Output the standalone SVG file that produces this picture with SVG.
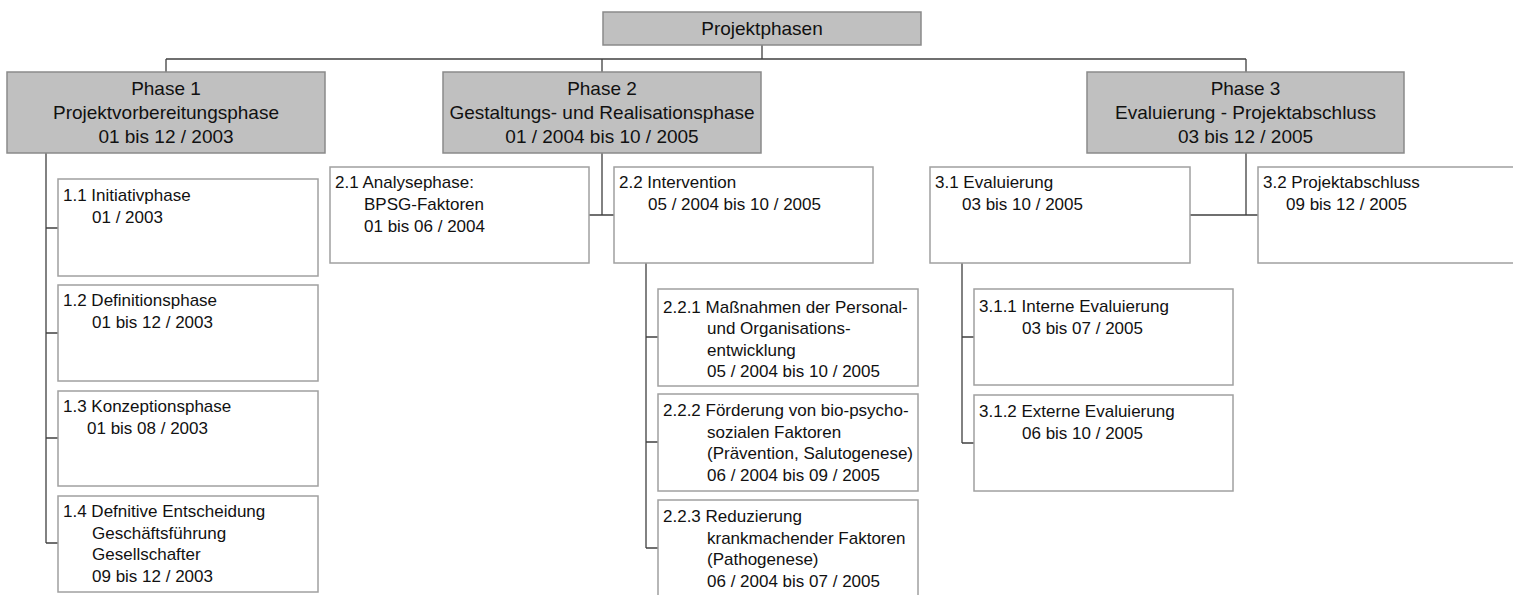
<svg xmlns="http://www.w3.org/2000/svg" width="1513" height="595" viewBox="0 0 1513 595">
<style>
.ph{fill:#c0c0c0;stroke:#8a8a8a;stroke-width:1.5}
.bx{fill:#ffffff;stroke:#a0a0a0;stroke-width:1.5}
.c{stroke:#404040;stroke-width:1.3;fill:none}
.tp{font-family:"Liberation Sans",Arial,sans-serif;font-size:19px;fill:#111;text-anchor:middle}
.ts{font-family:"Liberation Sans",Arial,sans-serif;font-size:17px;fill:#111}
</style>
<rect width="1513" height="595" fill="#ffffff"/>
<g id="connectors">
<path class="c" d="M762 45V59M166 59H1246M166 59V72M602 59V72M1246 59V72"/>
<path class="c" d="M46 153V543M46 228H58M46 333H58M46 438H58M46 543H58"/>
<path class="c" d="M602 153V215M589 215H614"/>
<path class="c" d="M646 263V548M646 337H658M646 442H658M646 548H658"/>
<path class="c" d="M1246 153V215M1190 215H1258"/>
<path class="c" d="M962 263V443M962 337H974M962 443H974"/>
</g>
<g id="root">
<rect class="ph" x="603" y="12" width="318" height="33"/>
<text class="tp" x="762" y="35">Projektphasen</text>
</g>
<g id="phase1">
<rect class="ph" x="7" y="72" width="318" height="81"/>
<text class="tp"><tspan x="166" y="95">Phase 1</tspan><tspan x="166" y="119">Projektvorbereitungsphase</tspan><tspan x="166" y="143">01 bis 12 / 2003</tspan></text>
</g>
<g id="phase2">
<rect class="ph" x="443" y="72" width="318" height="81"/>
<text class="tp"><tspan x="602" y="95">Phase 2</tspan><tspan x="602" y="119">Gestaltungs- und Realisationsphase</tspan><tspan x="602" y="143">01 / 2004 bis 10 / 2005</tspan></text>
</g>
<g id="phase3">
<rect class="ph" x="1087" y="72" width="317" height="81"/>
<text class="tp"><tspan x="1245.5" y="95">Phase 3</tspan><tspan x="1245.5" y="119">Evaluierung - Projektabschluss</tspan><tspan x="1245.5" y="143">03 bis 12 / 2005</tspan></text>
</g>
<g id="n1_1">
<rect class="bx" x="58" y="179" width="260" height="97"/>
<text class="ts"><tspan x="63" y="201">1.1 Initiativphase</tspan><tspan x="92" y="223">01 / 2003</tspan></text>
</g>
<g id="n1_2">
<rect class="bx" x="58" y="285" width="260" height="96"/>
<text class="ts"><tspan x="63" y="306">1.2 Definitionsphase</tspan><tspan x="92" y="328">01 bis 12 / 2003</tspan></text>
</g>
<g id="n1_3">
<rect class="bx" x="58" y="391" width="260" height="95"/>
<text class="ts"><tspan x="63" y="412">1.3 Konzeptionsphase</tspan><tspan x="87" y="434">01 bis 08 / 2003</tspan></text>
</g>
<g id="n1_4">
<rect class="bx" x="58" y="496" width="260" height="96"/>
<text class="ts"><tspan x="63" y="517">1.4 Defnitive Entscheidung</tspan><tspan x="92" y="539">Geschäftsführung</tspan><tspan x="92" y="560">Gesellschafter</tspan><tspan x="92" y="582">09 bis 12 / 2003</tspan></text>
</g>
<g id="n2_1">
<rect class="bx" x="330" y="167" width="259" height="96"/>
<text class="ts"><tspan x="335" y="188">2.1 Analysephase:</tspan><tspan x="364" y="210">BPSG-Faktoren</tspan><tspan x="364" y="232">01 bis 06 / 2004</tspan></text>
</g>
<g id="n2_2">
<rect class="bx" x="614" y="167" width="259" height="96"/>
<text class="ts"><tspan x="619" y="188">2.2 Intervention</tspan><tspan x="648" y="210">05 / 2004 bis 10 / 2005</tspan></text>
</g>
<g id="n2_2_1">
<rect class="bx" x="658" y="289" width="260" height="97"/>
<text class="ts"><tspan x="663" y="313">2.2.1 Maßnahmen der Personal-</tspan><tspan x="707" y="334">und Organisations-</tspan><tspan x="707" y="356">entwicklung</tspan><tspan x="707" y="377">05 / 2004 bis 10 / 2005</tspan></text>
</g>
<g id="n2_2_2">
<rect class="bx" x="658" y="394" width="260" height="97"/>
<text class="ts"><tspan x="663" y="416">2.2.2 Förderung von bio-psycho-</tspan><tspan x="707" y="438">sozialen Faktoren</tspan><tspan x="707" y="459">(Prävention, Salutogenese)</tspan><tspan x="707" y="481">06 / 2004 bis 09 / 2005</tspan></text>
</g>
<g id="n2_2_3">
<rect class="bx" x="658" y="500" width="260" height="100"/>
<text class="ts"><tspan x="663" y="522">2.2.3 Reduzierung</tspan><tspan x="707" y="544">krankmachender Faktoren</tspan><tspan x="707" y="565">(Pathogenese)</tspan><tspan x="707" y="587">06 / 2004 bis 07 / 2005</tspan></text>
</g>
<g id="n3_1">
<rect class="bx" x="930" y="167" width="260" height="96"/>
<text class="ts"><tspan x="935" y="188">3.1 Evaluierung</tspan><tspan x="962" y="210">03 bis 10 / 2005</tspan></text>
</g>
<g id="n3_2">
<rect class="bx" x="1258" y="167" width="270" height="96"/>
<text class="ts"><tspan x="1263" y="188">3.2 Projektabschluss</tspan><tspan x="1286" y="210">09 bis 12 / 2005</tspan></text>
</g>
<g id="n3_1_1">
<rect class="bx" x="974" y="289" width="259" height="96"/>
<text class="ts"><tspan x="979" y="312">3.1.1 Interne Evaluierung</tspan><tspan x="1022" y="334">03 bis 07 / 2005</tspan></text>
</g>
<g id="n3_1_2">
<rect class="bx" x="974" y="395" width="259" height="96"/>
<text class="ts"><tspan x="979" y="417">3.1.2 Externe Evaluierung</tspan><tspan x="1022" y="439">06 bis 10 / 2005</tspan></text>
</g>
</svg>
